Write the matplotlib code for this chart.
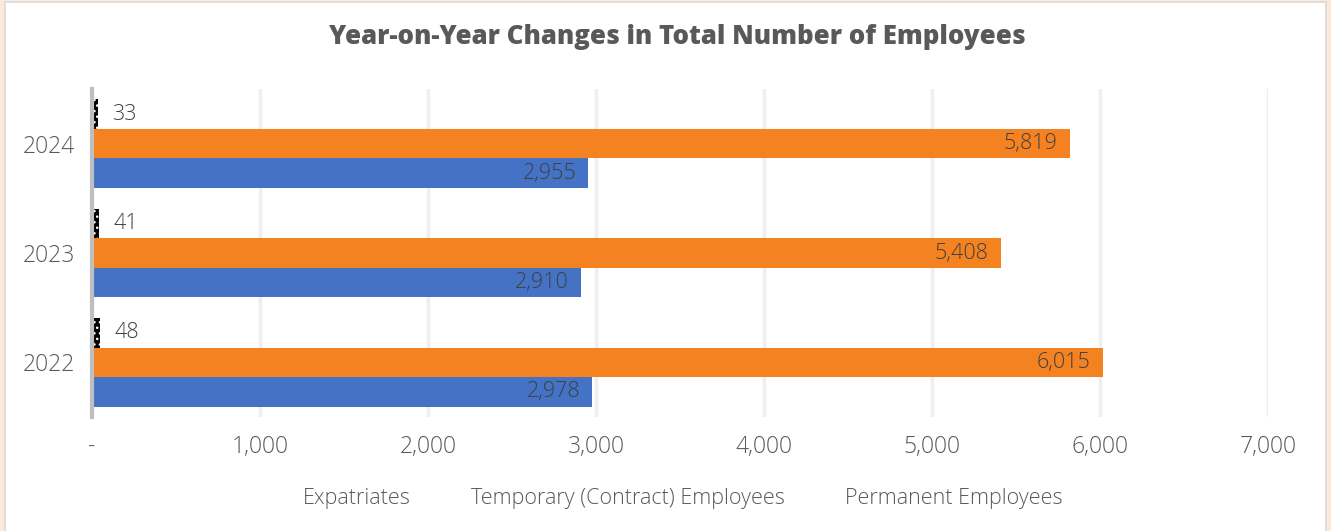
import matplotlib.pyplot as plt
from matplotlib.patches import Rectangle
import numpy as np

years = ["2022", "2023", "2024"]
permanent = [2978, 2910, 2955]
temporary = [6015, 5408, 5819]
expatriates = [48, 41, 33]

BLUE = "#4472C4"
ORANGE = "#F58220"
GREY_TXT = "#595959"
DARK_TXT = "#404040"

plt.rcParams["font.family"] = ["Open Sans", "DejaVu Sans"]

fig = plt.figure(figsize=(13.31, 5.31), dpi=100)
fig.patch.set_facecolor("#FDE9D9")
# white card behind the chart
fig.add_artist(Rectangle((5 / 1331, -0.01), 1321 / 1331, 1 - 2 / 531 + 0.01,
                         transform=fig.transFigure, facecolor="white",
                         edgecolor="#D9D9D9", linewidth=1.2, zorder=0))

ax = fig.add_axes([92 / 1331, 114 / 531, 1176 / 1331, 328 / 531])
ax.set_facecolor("none")

y = np.arange(len(years))
h = 0.27

b_perm = ax.barh(y - h, permanent, height=h, color=BLUE, label="Permanent Employees", zorder=3)
b_temp = ax.barh(y, temporary, height=h, color=ORANGE, label="Temporary (Contract) Employees", zorder=3)
b_exp = ax.barh(y + h, expatriates, height=h, color="black", edgecolor="white",
                linewidth=0, hatch="...", label="Expatriates", zorder=3)

# value labels: inside end for the big bars, outside for expatriates
for bars in (b_perm, b_temp):
    for bar in bars:
        w = bar.get_width()
        ax.text(w - 70, bar.get_y() + bar.get_height() / 2, f"{int(w):,}",
                ha="right", va="center", fontsize=15.5, color=DARK_TXT,
                fontweight="light", zorder=4)
for bar in b_exp:
    w = bar.get_width()
    ax.text(w + 85, bar.get_y() + bar.get_height() / 2, f"{int(w):,}",
            ha="left", va="center", fontsize=15.5, color=DARK_TXT,
            fontweight="light", zorder=4)

ax.set_xlim(0, 7000)
ax.set_ylim(-0.5, 2.5)
ticks = np.arange(0, 7001, 1000)
ax.set_xticks(ticks)
ax.set_xticklabels(["-"] + [f"{t:,}" for t in ticks[1:]])
ax.set_yticks(y)
ax.set_yticklabels(years)
ax.tick_params(axis="both", length=0, labelsize=16.5, labelcolor=GREY_TXT)
ax.tick_params(axis="x", pad=13)
ax.tick_params(axis="y", pad=12)
for lbl in ax.get_xticklabels() + ax.get_yticklabels():
    lbl.set_fontweight("light")

ax.grid(axis="x", color="#EFEFEF", linewidth=2.5, zorder=0)
for s in ("top", "right", "bottom"):
    ax.spines[s].set_visible(False)
ax.spines["left"].set_color("#BFBFBF")
ax.spines["left"].set_linewidth(3)
ax.spines["left"].set_zorder(5)

fig.text(0.509, 0.930, "Year-on-Year Changes in Total Number of Employees",
         ha="center", va="center", fontsize=18.6, fontweight="heavy", color=GREY_TXT)

leg = fig.legend(handles=[b_exp, b_temp, b_perm], loc="center",
                 bbox_to_anchor=(0.513, 0.061), ncol=3, frameon=False,
                 handlelength=0, handletextpad=0, columnspacing=2.8,
                 prop={"size": 15.5, "weight": "light"})
for hd in leg.legend_handles:
    hd.set_visible(False)
for t in leg.get_texts():
    t.set_color(GREY_TXT)

plt.savefig("out.png", dpi=100, facecolor=fig.get_facecolor())
